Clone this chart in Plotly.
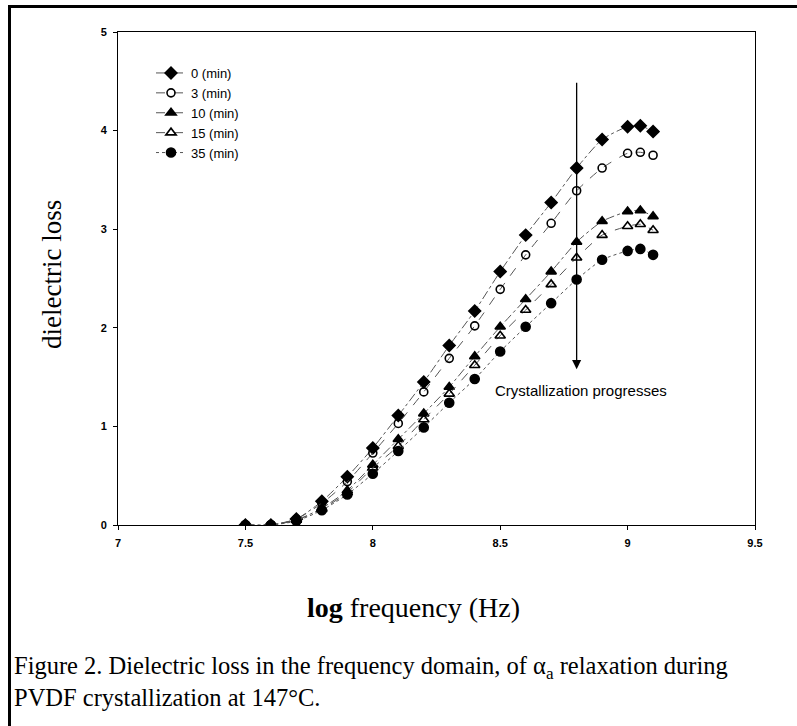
import plotly.graph_objects as go

# ---- data ----
log_freq = [7.5, 7.6, 7.7, 7.8, 7.9, 8.0, 8.1, 8.2, 8.3, 8.4, 8.5, 8.6, 8.7, 8.8, 8.9, 9.0, 9.05, 9.1]
loss_0min = [0.0, 0.0, 0.06, 0.24, 0.49, 0.78, 1.11, 1.45, 1.82, 2.17, 2.57, 2.94, 3.27, 3.62, 3.91, 4.04, 4.05, 3.99]
loss_3min = [0.0, 0.0, 0.06, 0.22, 0.44, 0.73, 1.03, 1.35, 1.69, 2.02, 2.39, 2.74, 3.06, 3.39, 3.62, 3.77, 3.78, 3.75]
loss_10min = [0.0, 0.0, 0.05, 0.17, 0.35, 0.61, 0.87, 1.13, 1.40, 1.71, 2.01, 2.29, 2.57, 2.87, 3.08, 3.18, 3.19, 3.13]
loss_15min = [0.0, 0.0, 0.05, 0.16, 0.33, 0.58, 0.80, 1.07, 1.33, 1.62, 1.92, 2.18, 2.44, 2.71, 2.94, 3.03, 3.05, 2.99]
loss_35min = [0.0, 0.0, 0.04, 0.15, 0.31, 0.52, 0.75, 0.99, 1.24, 1.48, 1.76, 2.01, 2.25, 2.49, 2.69, 2.78, 2.80, 2.74]
series_names = ["0 (min)", "3 (min)", "10 (min)", "15 (min)", "35 (min)"]
x_ticks = [7, 7.5, 8, 8.5, 9, 9.5]
y_ticks = [0, 1, 2, 3, 4, 5]

# ---- layout geometry (pixels) ----
W, H = 797, 726
L, R, T, B = 118, 755, 32, 525
pw, ph = R - L, B - T


def px(xp):
    return (xp - L) / pw


def py(yp):
    return (B - yp) / ph


series = [loss_0min, loss_3min, loss_10min, loss_15min, loss_35min]
symbols = ["diamond", "circle-open", "triangle-up", "triangle-up-open", "circle"]
sizes = [9, 8, 9, 9, 9]
dashes = ["dashdot", "dash", "dashdot", "dash", "dot"]

fig = go.Figure()
for ys, name, sym, sz, dsh in zip(series, series_names, symbols, sizes, dashes):
    fig.add_trace(go.Scatter(
        x=log_freq, y=ys, name=name, mode="lines+markers",
        line=dict(color="#555555", width=1, dash=dsh, shape="spline", smoothing=0.6),
        marker=dict(symbol=sym, size=sz, color="black", line=dict(color="black", width=1.6)),
    ))

axis_font = dict(family="Liberation Sans, Arial", size=11, color="black", weight="bold")

fig.update_layout(
    width=W, height=H,
    margin=dict(l=L, r=W - R, t=T, b=H - B, pad=0),
    paper_bgcolor="white", plot_bgcolor="white",
    showlegend=True,
    legend=dict(
        x=px(151), y=py(58), xanchor="left", yanchor="top",
        bgcolor="rgba(0,0,0,0)", borderwidth=0,
        font=dict(family="Liberation Sans, Arial", size=13, color="black"),
        tracegroupgap=0, itemwidth=30,
    ),
    xaxis=dict(
        range=[7, 9.5], tickvals=x_ticks, ticktext=[str(v) for v in x_ticks],
        showline=True, linecolor="black", linewidth=1, mirror=True,
        ticks="outside", ticklen=4, tickcolor="black",
        showgrid=False, zeroline=False, tickfont=axis_font, ticklabelstandoff=4,
    ),
    yaxis=dict(
        range=[0, 5], tickvals=y_ticks, ticktext=[str(v) for v in y_ticks],
        showline=True, linecolor="black", linewidth=1, mirror=True,
        ticks="outside", ticklen=4, tickcolor="black",
        showgrid=False, zeroline=False, tickfont=axis_font, ticklabelstandoff=4,
    ),
)

annotations = [
    dict(text="dielectric loss", xref="paper", yref="paper", x=px(52), y=py(275),
         textangle=-90, showarrow=False, xanchor="center", yanchor="middle",
         font=dict(family="Liberation Serif, Times New Roman", size=27, color="black")),
    dict(text="<b>log</b> frequency (Hz)", xref="paper", yref="paper", x=px(413), y=py(607),
         showarrow=False, xanchor="center", yanchor="middle",
         font=dict(family="Liberation Serif, Times New Roman", size=28, color="black")),
    dict(text="Figure 2. Dielectric loss in the frequency domain, of α<sub>a</sub> relaxation during<br>"
              "PVDF crystallization at 147°C.",
         xref="paper", yref="paper", x=px(12), y=py(650), showarrow=False,
         xanchor="left", yanchor="top", align="left",
         font=dict(family="Liberation Serif, Times New Roman", size=24.5, color="black")),
    dict(text="Crystallization progresses", xref="x", yref="y", x=8.47, y=1.36,
         showarrow=False, xanchor="left", yanchor="middle",
         font=dict(family="Liberation Sans, Arial", size=15, color="black")),
    dict(text="", xref="x", yref="y", x=8.8, y=1.58, ax=8.8, ay=4.5, axref="x", ayref="y",
         showarrow=True, arrowhead=2, arrowsize=1.4, arrowwidth=1.3, arrowcolor="black"),
]
fig.update_layout(annotations=annotations)

# outer frame (left and top edges visible)
fig.add_shape(type="line", xref="paper", yref="paper", x0=px(9.5), x1=px(9.5), y0=py(H + 2), y1=py(5),
              line=dict(color="black", width=3))
fig.add_shape(type="line", xref="paper", yref="paper", x0=px(8), x1=px(W + 2), y0=py(6.5), y1=py(6.5),
              line=dict(color="black", width=3))

fig.write_html("out.html", config={"displayModeBar": False},
               post_script="document.body.style.margin='0';")
